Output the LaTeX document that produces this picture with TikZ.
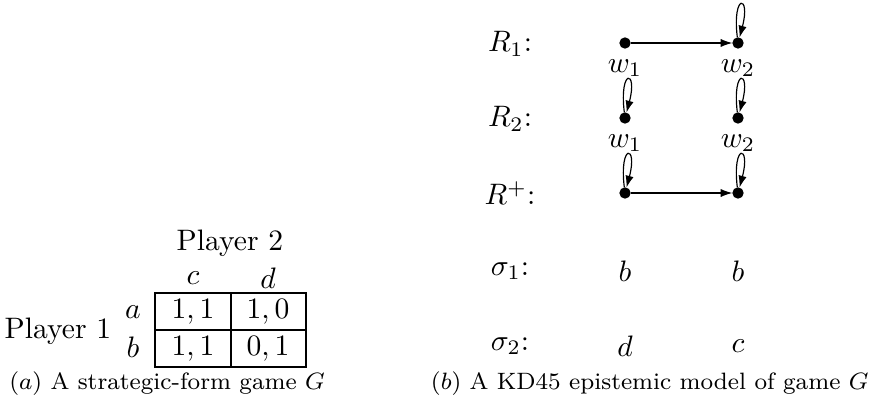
\documentclass[tikz,border=0pt]{standalone}
\usetikzlibrary{arrows.meta}

\newcommand*{\wone}{625}
\newcommand*{\wtwo}{738}
\newcommand*{\lblx}{510}

\begin{document}
\begin{tikzpicture}
[
	x=0.3378pt,y=-0.3378pt,
	world/.style={circle,draw,fill,inner sep=0pt,minimum size=3.4pt},
	rel/.style={-{Latex[length=4pt,width=2.8pt]}},
	caption/.style={font=\footnotesize}
]
	\useasboundingbox (0,0) rectangle (874,401);

	% strategic-form game
	\draw (155,293) rectangle (306,367);
	\draw (155,330) -- (306,330);
	\draw (231,293) -- (231,367);

	\node (pltwo) at (230,243) {Player 2};
	\node (plone) at (58,331) {Player 1};
	\node (colc) at (193,278) {$c$};
	\node (cold) at (268,278) {$d$};
	\node (rowa) at (133,312) {$a$};
	\node (rowb) at (133,347) {$b$};
	\node (ac) at (193,312) {$1,1$};
	\node (ad) at (268,312) {$1,0$};
	\node (bc) at (193,349) {$1,1$};
	\node (bd) at (268,349) {$0,1$};

	\node[caption] (capa) at (167,384) {$(a)$ A strategic-form game $G$};

	% epistemic model
	\node (lrone) at (\lblx,44) {$R_1$:};
	\node (lrtwo) at (\lblx,119) {$R_2$:};
	\node (lrplus) at (\lblx,193) {$R^{+}$:};
	\node (lsone) at (\lblx,271) {$\sigma_1$:};
	\node (lstwo) at (\lblx,346) {$\sigma_2$:};

	\foreach \r/\y in {one/43,two/118,plus/193} {
		\node[world] (\r a) at (\wone,\y) {};
		\node[world] (\r b) at (\wtwo,\y) {};
	}
	\foreach \r in {one,two} {
		\node[below=2pt] (\r wa) at (\r a) {$w_1$};
		\node[below=2pt] (\r wb) at (\r b) {$w_2$};
	}

	\draw[rel] (onea) -- (oneb);
	\draw[rel] (plusa) -- (plusb);
	\draw[rel] (oneb) .. controls +(97:17pt) and +(75:17pt) .. (oneb);
	\draw[rel] (twoa) .. controls +(97:17pt) and +(75:17pt) .. (twoa);
	\draw[rel] (twob) .. controls +(97:17pt) and +(75:17pt) .. (twob);
	\draw[rel] (plusa) .. controls +(97:17pt) and +(75:17pt) .. (plusa);
	\draw[rel] (plusb) .. controls +(97:17pt) and +(75:17pt) .. (plusb);

	\node (sa) at (\wone,271) {$b$};
	\node (sb) at (\wtwo,271) {$b$};
	\node (ta) at (\wone,346) {$d$};
	\node (tb) at (\wtwo,346) {$c$};

	\node[caption,anchor=east,inner sep=1pt] (capb) at (872,384) {$(b)$ A KD45 epistemic model of game $G$};

\end{tikzpicture}
\end{document}
